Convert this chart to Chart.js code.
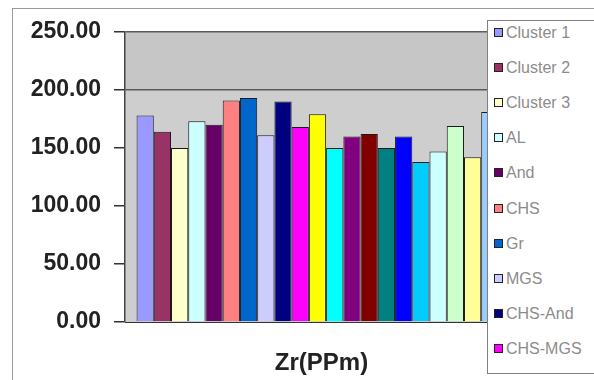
<!DOCTYPE html>
<html>
<head>
<meta charset="utf-8">
<script src="https://cdn.jsdelivr.net/npm/chart.js@4.4.1/dist/chart.umd.min.js"></script>
<style>
  html, body { margin: 0; padding: 0; background: #fff; overflow: hidden; }
  #wrap { position: relative; width: 594px; height: 380px; }
  #frame { position: absolute; left: 12px; top: 8px; width: 620px; height: 420px; border: 1px solid #9a9a9a; }
  #legend { position: absolute; left: 487px; top: 20px; width: 130px; height: 352px; border: 1px solid #808080; background: #fff;
    font-family: "Liberation Sans", Arial, sans-serif; font-size: 16px; color: #8c8c8c; }
  .item { position: absolute; left: 6px; height: 18px; line-height: 18px; white-space: nowrap; }
  .box { display: inline-block; width: 7px; height: 7px; border: 1px solid #222; margin-right: 3px; vertical-align: 1px; }
</style>
</head>
<body>
<div id="wrap">
  <div id="frame"></div>
  <canvas id="chart" width="594" height="380"></canvas>
  <div id="legend"></div>
</div>
<script>
// data
const categories = ['Zr(PPm)'];
const seriesNames = ['Cluster 1', 'Cluster 2', 'Cluster 3', 'AL', 'And', 'CHS', 'Gr', 'MGS', 'CHS-And', 'CHS-MGS',
  'Series 11', 'Series 12', 'Series 13', 'Series 14', 'Series 15', 'Series 16', 'Series 17', 'Series 18',
  'Series 19', 'Series 20', 'Series 21'];
const seriesValues = [178, 164, 150, 173, 170, 191, 193, 161, 190, 168,
  179, 150, 160, 162, 150, 160, 138, 147, 169, 142, 181];
const seriesColors = ['#9999ff', '#993366', '#ffffcc', '#ccffff', '#660066', '#ff8080', '#0066cc', '#ccccff', '#000080', '#ff00ff',
  '#ffff00', '#00ffff', '#800080', '#800000', '#008080', '#0000ff', '#00ccff', '#ccffff', '#ccffcc', '#ffff99', '#99ccff'];
const yTicks = [0, 50, 100, 150, 200, 250];
const legendShown = 10;

// grey plot background, a touch darker above the 200 line
const plotBg = {
  id: 'plotBg',
  beforeDraw(chart) {
    const { ctx, chartArea: a, scales: { y } } = chart;
    const y200 = y.getPixelForValue(200);
    ctx.save();
    ctx.fillStyle = '#c6c6c6';
    ctx.fillRect(a.left, a.top, a.right - a.left, y200 - a.top);
    ctx.fillStyle = '#cdcecd';
    ctx.fillRect(a.left, y200, a.right - a.left, a.bottom - y200);
    ctx.restore();
  }
};

new Chart(document.getElementById('chart'), {
  type: 'bar',
  data: {
    labels: categories,
    datasets: seriesNames.map((name, i) => ({
      label: name,
      data: [seriesValues[i]],
      backgroundColor: seriesColors[i],
      borderColor: '#1a1a1a',
      borderWidth: 1,
      categoryPercentage: 0.94,
      barPercentage: 1
    }))
  },
  options: {
    responsive: false,
    animation: false,
    layout: { padding: { left: 12, right: 84, top: 32, bottom: 0 } },
    plugins: { legend: { display: false }, tooltip: { enabled: false } },
    scales: {
      x: {
        grid: { display: false },
        border: { color: '#333', width: 1 },
        ticks: {
          padding: 19,
          labelOffset: 4,
          color: '#222',
          font: { family: 'Liberation Sans', size: 24, weight: 'bold' }
        },
        afterFit: s => { s.height = 58; }
      },
      y: {
        min: 0,
        max: 250,
        afterBuildTicks: s => { s.ticks = yTicks.map(v => ({ value: v })); },
        grid: {
          color: c => (c.tick && (c.tick.value === 200 || c.tick.value === 250)) ? '#5a5a5a' : 'rgba(0,0,0,0)',
          lineWidth: 1.5,
          tickColor: '#333',
          tickLength: 11
        },
        border: { color: '#444', width: 1.5 },
        ticks: {
          padding: 13,
          color: '#222',
          font: { family: 'Liberation Sans', size: 23, weight: 'bold' },
          callback: v => v.toFixed(2)
        },
        afterFit: s => { s.width = 113; }
      }
    }
  },
  plugins: [plotBg]
});

// legend overlaps the plot like the original, only the first entries fit
const legend = document.getElementById('legend');
seriesNames.slice(0, legendShown).forEach((name, i) => {
  const it = document.createElement('div');
  it.className = 'item';
  it.style.top = (3 + i * 35.1) + 'px';
  it.innerHTML = '<span class="box" style="background:' + seriesColors[i] + '"></span>' + name;
  legend.appendChild(it);
});
</script>
</body>
</html>
